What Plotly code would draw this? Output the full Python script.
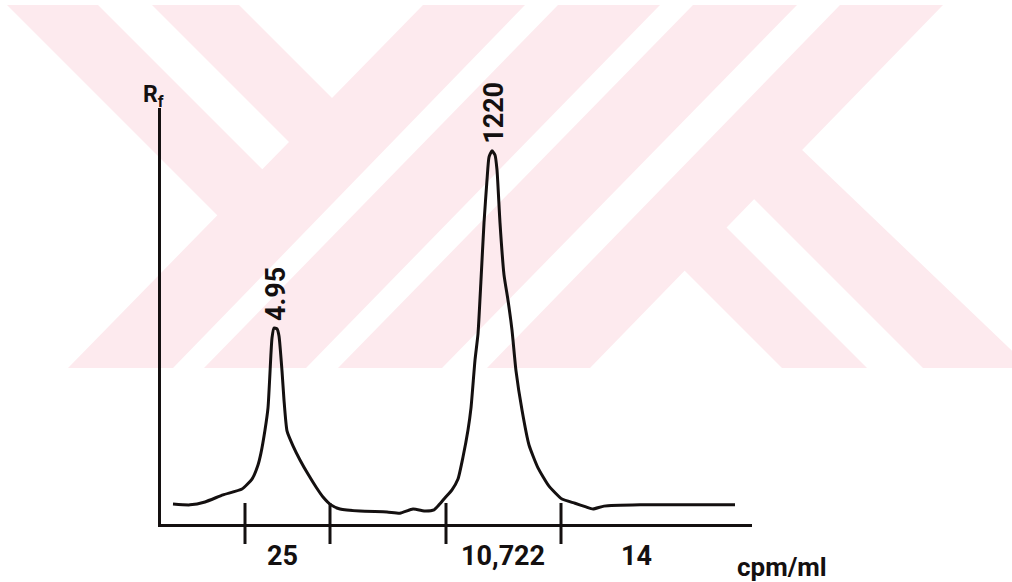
import plotly.graph_objects as go

# ---------------- data ----------------
distance = [1.2, 2.9, 4.4, 6.2, 8.1, 9.1, 9.7, 10.0, 10.4, 10.7, 11.0, 11.1, 11.3,
            11.6, 11.8, 12.1, 12.3, 12.6, 13.2, 13.9, 14.7, 15.5, 16.2, 17.0, 17.9,
            19.9, 22.6, 23.9, 25.2, 26.5, 27.3, 27.8, 28.3, 29.1, 29.7, 30.2, 30.7,
            31.0, 31.4, 31.7, 32.0, 32.3, 32.6, 32.8, 33.1, 33.4, 33.6, 33.9, 34.3,
            34.7, 35.1, 35.5, 36.1, 36.8, 37.7, 38.8, 40.1, 41.4, 42.5, 43.2, 44.3,
            47.9, 53.9, 57.4]
activity = [4.8, 4.6, 5.3, 7.0, 8.4, 10.8, 14.2, 17.1, 22.6, 27.9, 41.1, 44.7, 47.1,
            46.9, 45.2, 36.8, 29.8, 22.4, 18.8, 15.4, 12.0, 8.9, 6.5, 4.6, 3.6,
            3.1, 2.9, 2.6, 3.6, 3.1, 3.4, 4.6, 6.0, 8.2, 10.8, 16.1, 22.6,
            27.9, 39.4, 45.7, 58.7, 72.4, 82.7, 88.2, 89.7, 88.7, 85.1, 72.4, 59.9,
            53.8, 46.6, 36.8, 27.4, 19.0, 13.5, 9.1, 6.0, 5.0, 4.1, 3.6, 4.3,
            4.6, 4.6, 4.6]

peak_labels = ["4.95", "1220"]
peak_x = [11.3, 33.1]
peak_y = [47.1, 89.7]

section_bounds = [8.4, 16.9, 28.5, 40.0]
section_labels = ["25", "10,722", "14"]
section_label_x = [12.1, 34.2, 47.5]

x_unit_label = "cpm/ml"
y_axis_label = "R<sub>f</sub>"

# ---------------- layout helpers ----------------
W, H = 1012, 582
INK = "#141010"
FONT = "Roboto, Liberation Sans, sans-serif"
PINK = "#fdeaee"


def px(x):
    return x / W


def py(y):
    return 1 - y / H


def tfont(size):
    return dict(family=FONT, size=size, color=INK, weight="bold")


# background watermark (decoration, pixel polygons)
watermark_polys = [
    [(423, 5), (525, 5), (173, 368), (68, 368)],
    [(558, 5), (660, 5), (306, 368), (204, 368)],
    [(693, 5), (797, 5), (442, 368), (338, 368)],
    [(840, 5), (943, 5), (590, 368), (487, 368)],
    [(7, 5), (98, 5), (288, 195), (243, 241)],
    [(152, 5), (239, 5), (358, 124), (315, 168)],
    [(658, 244), (700, 201), (867, 368), (782, 368)],
    [(728, 173), (776, 125), (1030, 368), (923, 368)],
]

shapes = []
for poly in watermark_polys:
    path = "M " + " L ".join(f"{px(a):.5f},{py(b):.5f}" for a, b in poly) + " Z"
    shapes.append(dict(type="path", path=path, xref="paper", yref="paper",
                       fillcolor=PINK, line=dict(width=0), layer="below"))

# section dividers crossing the x axis
for b in section_bounds:
    shapes.append(dict(type="line", xref="x", yref="paper", x0=b, x1=b,
                       y0=py(544), y1=py(503), line=dict(color=INK, width=3)))

fig = go.Figure()
fig.add_trace(go.Scatter(x=distance, y=activity, mode="lines",
                         line=dict(color=INK, width=3, shape="spline", smoothing=0.5),
                         hoverinfo="skip", showlegend=False))

annotations = []
for lbl, xv, yv in zip(peak_labels, peak_x, peak_y):
    annotations.append(dict(x=xv, y=yv, xref="x", yref="y", text=lbl, showarrow=False,
                            textangle=-90, yanchor="bottom", xanchor="center",
                            yshift=5, xshift=2, font=tfont(27)))
for lbl, xv in zip(section_labels, section_label_x):
    annotations.append(dict(x=xv, y=py(556), xref="x", yref="paper",
                            text=lbl, showarrow=False, xanchor="center", yanchor="middle",
                            font=tfont(27)))
annotations.append(dict(x=px(782), y=py(567), xref="paper", yref="paper", text=x_unit_label,
                        showarrow=False, xanchor="center", yanchor="middle",
                        font=tfont(26)))
annotations.append(dict(x=px(153), y=py(96), xref="paper", yref="paper", text=y_axis_label,
                        showarrow=False, xanchor="center", yanchor="middle",
                        font=tfont(23)))

fig.update_layout(
    width=W, height=H,
    margin=dict(l=0, r=0, t=0, b=0, pad=0),
    paper_bgcolor="white", plot_bgcolor="rgba(0,0,0,0)",
    shapes=shapes, annotations=annotations, showlegend=False,
    xaxis=dict(domain=[px(161), px(752)], range=[0, 59.1], showline=True, linecolor=INK,
               linewidth=3, showgrid=False, zeroline=False, showticklabels=False,
               ticks="", automargin=False, fixedrange=True),
    yaxis=dict(domain=[py(524), py(108)], range=[0, 100], showline=True, linecolor=INK,
               linewidth=3, showgrid=False, zeroline=False, showticklabels=False,
               ticks="", automargin=False, fixedrange=True),
)

fig.write_html("out.html")
